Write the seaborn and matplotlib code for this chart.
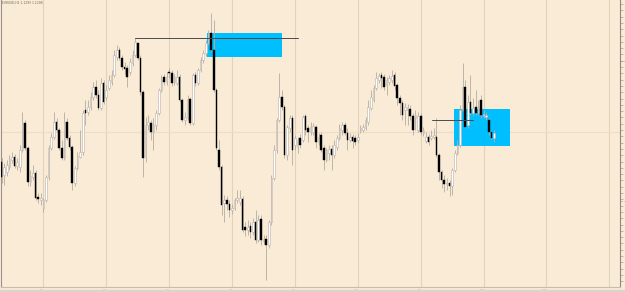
import matplotlib
matplotlib.use("Agg")
import matplotlib.pyplot as plt
import seaborn as sns
import numpy as np
import pandas as pd

# candle values (price levels, in chart units where larger = lower on screen)
opens = [162,175,172,167,160,157,166,167,150,123,148,182,177,173,197,200,208,200,177,148,
         137,122,130,148,158,122,138,147,183,168,157,152,110,112,107,97,87,95,108,83,
         97,88,82,75,57,50,58,67,68,72,63,55,43,58,92,157,125,123,132,125,
         113,90,77,82,72,73,82,83,77,100,120,118,99,123,75,83,70,60,53,43,
         33,50,90,150,167,203,200,204,210,208,200,202,199,227,230,226,232,222,240,219,
         241,239,245,222,178,150,120,97,107,155,128,118,145,147,138,140,116,128,132,132,
         127,142,135,148,160,153,149,155,147,138,130,125,133,140,137,138,140,130,130,128,
         122,108,100,88,80,75,77,85,82,80,75,85,98,103,110,110,109,116,118,130,
         116,133,141,137,138,137,137,155,172,180,184,183,186,170,153,145,110,87,125,102,
         113,107,113,100,116,117,120,132,138]
highs = [158,163,160,155,152,154,158,145,112,120,146,170,165,170,193,193,198,175,145,133,
         112,118,128,140,112,118,135,145,166,152,130,110,100,100,92,82,80,90,78,80,
         85,75,70,50,45,47,55,62,65,58,50,38,45,55,90,117,115,120,118,110,
         88,75,74,72,68,70,74,70,74,98,112,95,97,73,72,68,57,50,40,30,
         13,20,88,140,165,195,196,200,204,198,190,190,196,222,220,222,218,210,215,215,
         235,235,220,175,145,118,73,90,105,125,115,115,135,137,134,115,114,125,122,123,
         125,133,132,145,148,145,145,140,135,124,122,122,128,133,134,135,133,125,124,117,
         100,90,85,72,73,72,74,77,75,70,72,83,95,100,103,104,105,113,110,112,
         113,127,132,134,130,128,118,153,170,175,178,180,168,150,140,105,63,80,95,75,
         98,90,100,95,110,112,118,130,130]
lows = [183,185,176,170,163,168,170,172,152,150,186,186,180,200,203,205,212,202,180,150,
        139,132,150,160,160,140,150,190,186,170,158,155,125,115,110,100,98,110,110,104,
        100,90,85,77,60,60,70,74,87,75,66,57,60,95,177,162,130,140,150,130,
        115,92,85,85,78,86,85,85,102,122,125,120,125,125,86,85,72,63,56,45,
        52,92,150,170,215,222,210,217,214,210,203,205,232,236,235,238,235,243,242,245,
        244,280,248,225,180,153,122,110,158,160,132,165,150,153,148,142,135,142,135,135,
        148,145,152,170,162,160,170,158,150,140,135,135,150,142,148,145,143,133,132,130,
        125,110,102,90,83,88,90,95,85,83,90,105,115,120,125,125,120,135,130,132,
        135,136,143,145,140,139,157,180,188,192,190,196,195,172,155,147,112,128,128,115,
        116,115,115,118,118,120,135,140,142]
closes = [177,167,165,159,157,166,162,150,123,148,182,176,173,198,199,198,200,177,148,137,
          122,130,148,158,122,138,147,183,168,156,152,113,113,107,97,87,95,108,83,102,
          90,80,75,55,50,58,67,69,77,62,55,42,58,92,158,125,122,132,125,113,
          90,80,82,77,73,83,77,77,100,120,117,99,123,75,83,70,60,53,43,33,
          50,90,148,167,205,200,204,210,208,200,198,198,230,230,227,232,222,240,220,240,
          239,245,222,178,150,120,97,107,155,127,118,150,138,140,145,117,130,132,127,126,
          142,137,150,160,150,149,155,145,138,128,125,133,140,137,141,142,137,128,127,120,
          107,97,88,78,76,78,87,80,78,76,86,98,103,115,107,107,116,130,115,116,
          132,130,137,142,136,135,155,172,180,184,183,186,170,153,145,110,87,127,102,113,
          108,113,107,115,114,115,132,138,133]

# rectangles and horizontal lines (chart objects)
rect_bars = [[78.5, 107.0], [172.7, 194.0]]
rect_levels = [[33, 57], [109, 146]]
hline_bars = [[51, 113.0], [164.5, 180.0]]
hline_levels = [38, 120]

# axis labels
day_labels = ["1 Jun", "2 Jun", "3 Jun", "4 Jun", "5 Jun", "8 Jun", "9 Jun", "10 Jun", "11 Jun"]
price_labels = ["1.13", "1.12"]

n = len(opens)
df = pd.DataFrame({"bar": np.arange(n), "open": opens, "high": highs,
                   "low": lows, "close": closes})
df["bull"] = df["close"] < df["open"]

sns.set_theme(style="white")
plt.rcParams["font.family"] = ["DejaVu Sans"]

W, H = 625, 292
fig = plt.figure(figsize=(W / 100, H / 100), dpi=100)
fig.patch.set_facecolor("#FAEBD7")
L, R, T, B = 1, 620, 0, 287
ax = fig.add_axes([L / W, (H - B) / H, (R - L) / W, (B - T) / H])
ax.set_facecolor("#FAEBD7")

step = 2.62
x0 = 1.5
ax.set_xlim((L - x0) / step, (R - x0) / step)
ax.set_ylim(B, T)

# grid: vertical every 24 bars, one horizontal
for gx in range(16, 240, 24):
    ax.axvline(gx, color="#E2D2BC", lw=0.8, zorder=0)
ax.axhline(132, color="#EDDCC6", lw=0.8, zorder=0)

# chart objects
for (b0, b1), (y0, y1) in zip(rect_bars, rect_levels):
    ax.fill_between([b0, b1], y0, y1, color="#00BFFF", lw=0, zorder=1)

# wicks
ax.vlines(df["bar"], df["high"], df["low"], color="#B4ACA2", lw=0.6, zorder=2)
bull = df[df["bull"]]
bear = df[~df["bull"]]
ax.bar(bull["bar"], bull["open"] - bull["close"], bottom=bull["close"], width=0.62,
       color="#FFFFFF", edgecolor="#B8B0A6", linewidth=0.4, zorder=3)
ax.bar(bear["bar"], bear["close"] - bear["open"], bottom=bear["open"], width=0.62,
       color="#000000", edgecolor="#000000", linewidth=0.3, zorder=3)

for (b0, b1), y in zip(hline_bars, hline_levels):
    sns.lineplot(x=[b0, b1], y=[y, y], ax=ax, color="#4A4A4A", lw=0.7, zorder=4)

# axes styling
ax.spines["top"].set_visible(False)
ax.spines["left"].set_color("#9A9288")
ax.spines["left"].set_linewidth(0.8)
ax.spines["right"].set_color("#8E867C")
ax.spines["bottom"].set_color("#C8BCAC")
ax.spines["right"].set_linewidth(0.8)
ax.spines["bottom"].set_linewidth(0.8)
ax.yaxis.tick_right()
yt = np.arange(4, 287, 6.3)
ax.set_yticks(yt)
ax.set_yticklabels(["" for _ in yt])
ax.tick_params(axis="y", length=2.5, width=0.5, color="#A89E92", pad=0.3)
ax.set_yticks([62, 132, 202], minor=True)
ax.set_yticklabels([price_labels[0], "", price_labels[1]], minor=True, fontsize=1.6,
                   color="#8A8278")
ax.tick_params(axis="y", which="minor", length=0, pad=0.2)
xt = np.arange(16, 16 + 24 * len(day_labels), 24)
ax.set_xticks(xt)
ax.set_xticklabels(day_labels, fontsize=1.8, color="#9A9288")
ax.tick_params(axis="x", length=1, width=0.3, color="#B0A89C", pad=0.3)
ax.set_xticks(np.arange(0, 190, 4), minor=True)
ax.tick_params(axis="x", which="minor", length=0.8, width=0.3, color="#C0B6A8")
ax.set_xlabel("")
ax.set_ylabel("")
ax.grid(False)

fig.text(2 / W, 1 - 0.8 / H, "EURUSD,H1 1.1293 1.1298", fontsize=2.2,
         color="#6E665C", va="top", ha="left")
fig.patches.append(plt.Rectangle((0, 0), 1, 2 / H, transform=fig.transFigure,
                                 color="#D8D4CE", zorder=0))

fig.savefig("out.png", dpi=100, facecolor=fig.get_facecolor())
